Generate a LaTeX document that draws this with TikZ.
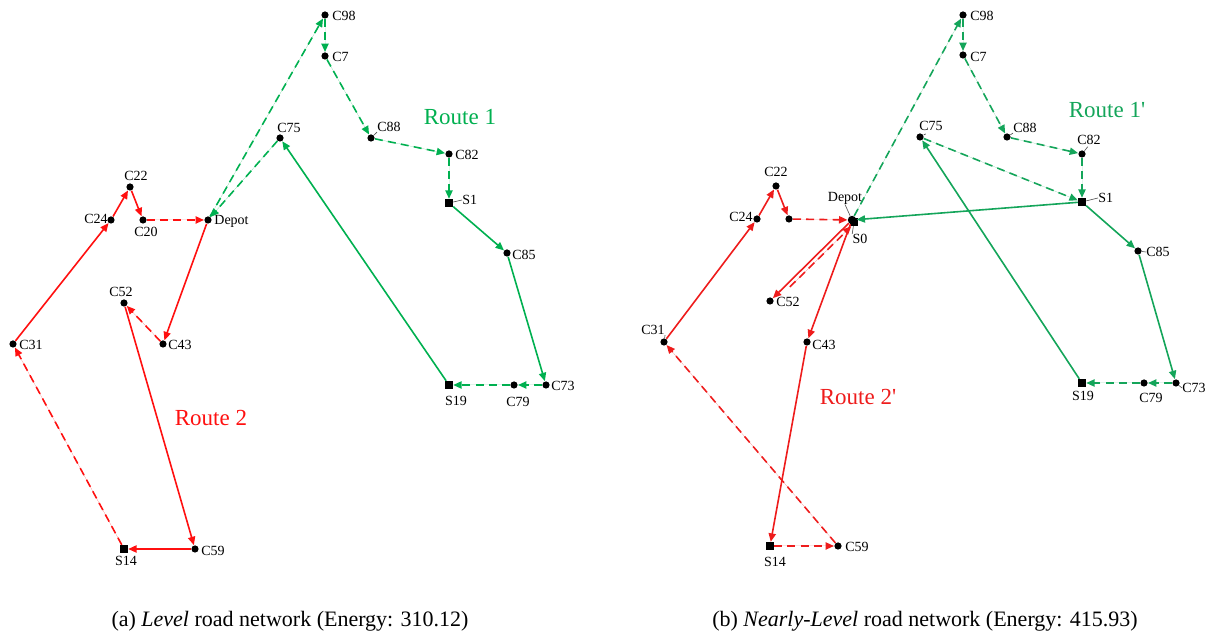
\documentclass[tikz,border=0pt]{standalone}
\usepackage{fontspec}
\setmainfont{Liberation Serif}
\usetikzlibrary{arrows.meta}
\definecolor{gA}{HTML}{00B050}
\definecolor{gB}{HTML}{14A55A}
\definecolor{rA}{HTML}{FF1010}
\definecolor{rB}{HTML}{EE1C1C}
\begin{document}
\begin{tikzpicture}[x=0.5pt,y=-0.5pt,
  cust/.style={circle,fill=black,inner sep=0pt,minimum size=3.6pt},
  stn/.style={rectangle,fill=black,inner sep=0pt,minimum size=3.8pt},
  lbl/.style={font=\fontsize{7}{8}\selectfont,inner sep=0pt},
  routelbl/.style={font=\fontsize{11.5}{13}\selectfont,inner sep=0pt},
  caplbl/.style={font=\fontsize{11}{13}\selectfont,inner sep=0pt},
  edge/.style={line width=0.8pt,-{Triangle[length=4.2pt,width=3.6pt]}},
  dsh/.style={dash pattern=on 4pt off 2.6pt},
  ga/.style={edge,draw=gA,fill=gA},
  gb/.style={edge,draw=gB,fill=gB},
  ra/.style={edge,draw=rA,fill=rA},
  rb/.style={edge,draw=rB,fill=rB},
  leader/.style={draw=black!70,line width=0.3pt}]
\useasboundingbox (0,0) rectangle (1206,635);

% ---------------- (a) ----------------
\node[cust] (aC98) at (325,15) {};
\node[cust] (aC7) at (325,56) {};
\node[cust] (aC88) at (371,138) {};
\node[cust] (aC82) at (449,154) {};
\node[stn] (aS1) at (449,203) {};
\node[cust] (aC85) at (507,253) {};
\node[cust] (aC73) at (546,385) {};
\node[cust] (aC79) at (514,385) {};
\node[stn] (aS19) at (449,385) {};
\node[cust] (aC75) at (280,138) {};
\node[cust] (aDepot) at (208,220) {};
\node[cust] (aC20) at (143,220) {};
\node[cust] (aC22) at (130,187) {};
\node[cust] (aC24) at (111,220) {};
\node[cust] (aC31) at (13,344) {};
\node[cust] (aC52) at (124,303) {};
\node[cust] (aC43) at (163,344) {};
\node[cust] (aC59) at (195,549) {};
\node[stn] (aS14) at (124,549) {};

\node[lbl,anchor=west] (laC98) at (332,16) {C98};
\node[lbl,anchor=west] (laC7) at (332,57) {C7};
\node[lbl,anchor=west] (laC88) at (377,127) {C88};
\node[lbl,anchor=west] (laC82) at (455,155) {C82};
\node[lbl,anchor=west] (laS1) at (462,200) {S1};
\node[lbl,anchor=west] (laC85) at (512,255) {C85};
\node[lbl,anchor=west] (laC73) at (551,386) {C73};
\node[lbl] (laC79) at (518,402) {C79};
\node[lbl] (laS19) at (456,401) {S19};
\node[lbl] (laC75) at (289,128) {C75};
\node[lbl,anchor=west] (laDepot) at (214,221) {Depot};
\node[lbl] (laC20) at (146,232) {C20};
\node[lbl] (laC22) at (136,176) {C22};
\node[lbl,anchor=east] (laC24) at (108,219) {C24};
\node[lbl,anchor=west] (laC31) at (19,345) {C31};
\node[lbl] (laC52) at (121,292) {C52};
\node[lbl,anchor=west] (laC43) at (168,345) {C43};
\node[lbl,anchor=west] (laC59) at (201,551) {C59};
\node[lbl] (laS14) at (126,561) {S14};
\node[routelbl,text=gA] (aR1) at (460,117) {Route 1};
\node[routelbl,text=rA] (aR2) at (211,418) {Route 2};

\draw[leader] (aC88) -- (laC88.south west);
\draw[leader] (aS1) -- (laS1.west);

\draw[ga,dsh] (aDepot) -- (aC98);
\draw[ga,dsh] (aC98) -- (aC7);
\draw[ga,dsh] (aC7) -- (aC88);
\draw[ga,dsh] (aC88) -- (aC82);
\draw[ga,dsh] (aC82) -- (aS1);
\draw[ga] (aS1) -- (aC85);
\draw[ga] (aC85) -- (aC73);
\draw[ga,dsh] (aC73) -- (aC79);
\draw[ga,dsh] (aC79) -- (aS19);
\draw[ga] (aS19) -- (aC75);
\draw[ga,dsh] (aC75) -- (aDepot);

\draw[ra] (aDepot) -- (aC43);
\draw[ra,dsh] (aC43) -- (aC52);
\draw[ra] (aC52) -- (aC59);
\draw[ra] (aC59) -- (aS14);
\draw[ra,dsh] (aS14) -- (aC31);
\draw[ra] (aC31) -- (aC24);
\draw[ra] (aC24) -- (aC22);
\draw[ra] (aC22) -- (aC20);
\draw[ra,dsh] (aC20) -- (aDepot);

% ---------------- (b) ----------------
\node[cust] (bC98) at (963,15) {};
\node[cust] (bC7) at (963,55) {};
\node[cust] (bC88) at (1007,137) {};
\node[cust] (bC82) at (1082,154) {};
\node[stn] (bS1) at (1082,202) {};
\node[cust] (bC85) at (1138,251) {};
\node[cust] (bC73) at (1176,383) {};
\node[cust] (bC79) at (1144,383) {};
\node[stn] (bS19) at (1082,383) {};
\node[cust] (bC75) at (920,137) {};
\node[cust,minimum size=4.2pt] (bDepot) at (852,220) {};
\node[stn] (bS0) at (854,222) {};
\node[cust] (bC20) at (789,219) {};
\node[cust] (bC22) at (776,186) {};
\node[cust] (bC24) at (757,219) {};
\node[cust] (bC31) at (664,342) {};
\node[cust] (bC52) at (770,301) {};
\node[cust] (bC43) at (807,342) {};
\node[stn] (bS14) at (770,546) {};
\node[cust] (bC59) at (838,546) {};

\node[lbl,anchor=west] (lbC98) at (970,16) {C98};
\node[lbl,anchor=west] (lbC7) at (970,57) {C7};
\node[lbl,anchor=west] (lbC88) at (1013,128) {C88};
\node[lbl] (lbC82) at (1089,140) {C82};
\node[lbl,anchor=west] (lbS1) at (1098,198) {S1};
\node[lbl,anchor=west] (lbC85) at (1146,252) {C85};
\node[lbl,anchor=west] (lbC73) at (1182,388) {C73};
\node[lbl] (lbC79) at (1151,398) {C79};
\node[lbl] (lbS19) at (1083,396) {S19};
\node[lbl] (lbC75) at (931,126) {C75};
\node[lbl] (lbDepot) at (845,198) {Depot};
\node[lbl] (lbS0) at (860,239) {S0};
\node[lbl] (lbC22) at (776,172) {C22};
\node[lbl,anchor=east] (lbC24) at (753,217) {C24};
\node[lbl] (lbC31) at (653,330) {C31};
\node[lbl,anchor=west] (lbC52) at (776,302) {C52};
\node[lbl,anchor=west] (lbC43) at (812,345) {C43};
\node[lbl] (lbS14) at (775,562) {S14};
\node[lbl,anchor=west] (lbC59) at (845,547) {C59};
\node[routelbl,text=gB] (bR1) at (1107,110) {Route 1\textquotesingle};
\node[routelbl,text=rB] (bR2) at (858,397) {Route 2\textquotesingle};

\draw[leader] (bC88) -- (lbC88.south west);
\draw[leader,shorten >=1pt] (bC82) -- (lbC82.south);
\draw[leader] (bS1) -- (lbS1.west);
\draw[leader] (bC85) -- (lbC85.west);
\draw[leader] (bC73) -- (lbC73.west);
\draw[leader,shorten >=3pt] (bC75) -- (lbC75.south);
\draw[leader] (bDepot) -- (lbDepot.south);
\draw[leader] (bS0) -- (lbS0.north west);
\draw[leader] (bC31) -- (lbC31.south east);

\draw[gb,dsh] (bDepot) -- (bC98);
\draw[gb,dsh] (bC98) -- (bC7);
\draw[gb,dsh] (bC7) -- (bC88);
\draw[gb,dsh] (bC88) -- (bC82);
\draw[gb,dsh] (bC82) -- (bS1);
\draw[gb] (bS1) -- (bC85);
\draw[gb] (bC85) -- (bC73);
\draw[gb,dsh] (bC73) -- (bC79);
\draw[gb,dsh] (bC79) -- (bS19);
\draw[gb] (bS19) -- (bC75);
\draw[gb,dsh] (bC75) -- (bS1);
\draw[gb] (bS1) -- (bDepot);

\draw[rb] (bDepot) -- (bC52);
\draw[rb,dsh,shorten <=12pt,shorten >=2.5pt] ([shift={(2.8,2.8)}]bC52.center) -- ([shift={(2.8,2.8)}]bDepot.center);
\draw[rb] (bDepot) -- (bC43);
\draw[rb] (bC43) -- (bS14);
\draw[rb,dsh] (bS14) -- (bC59);
\draw[rb,dsh] (bC59) -- (bC31);
\draw[rb] (bC31) -- (bC24);
\draw[rb] (bC24) -- (bC22);
\draw[rb] (bC22) -- (bC20);
\draw[rb,dsh] (bC20) -- (bDepot);

% ---------------- captions ----------------
\node[caplbl] (capA) at (290,621) {(a) \textit{Level} road network (Energy: 310.12)};
\node[caplbl] (capB) at (925,621) {(b) \textit{Nearly-Level} road network (Energy: 415.93)};
\end{tikzpicture}
\end{document}
